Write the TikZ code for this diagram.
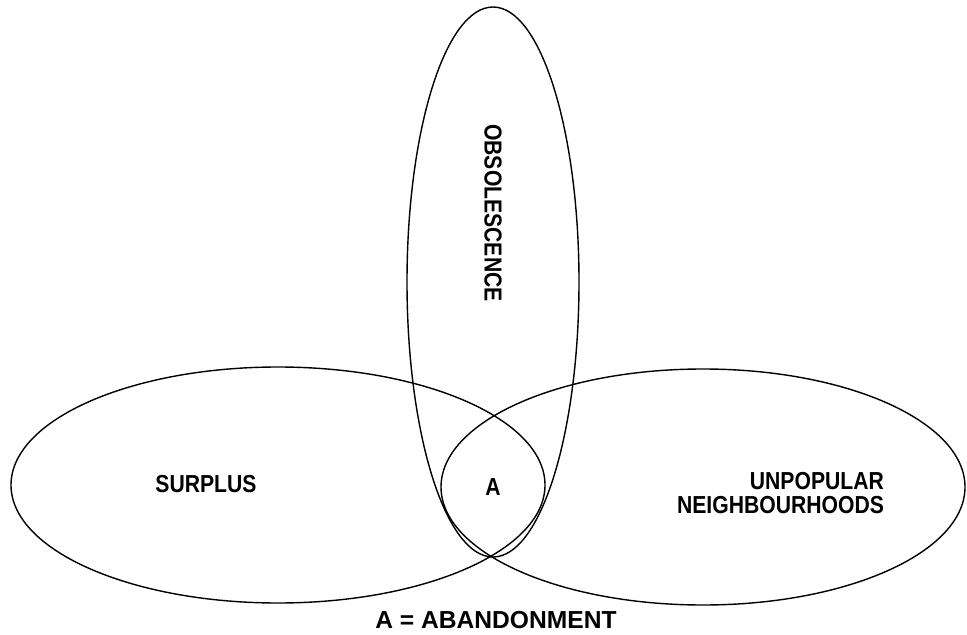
\documentclass[tikz,border=0pt]{standalone}
\usepackage{fontspec}
\usepackage{graphicx}
\setmainfont{Liberation Sans}
\usetikzlibrary{positioning}
\tikzset{
  setline/.style={draw=black,line width=0.8pt},
  setlabel/.style={font=\bfseries\fontsize{14}{13.8}\selectfont,inner sep=1pt},
}
\newcommand{\vtxt}[1]{\scalebox{0.86}[1]{#1}}
\begin{document}
\begin{tikzpicture}[x=0.02cm,y=-0.02cm]
    \useasboundingbox (0,0) rectangle (967,635);
    % the three sets
    \draw[setline] (278,485) ellipse [x radius=267,y radius=118];
    \draw[setline] (703,487) ellipse [x radius=262,y radius=118];
    \draw[setline] (493,282) ellipse [x radius=86,y radius=275];
    % labels
    \node[setlabel] (surplus) at (206,484) {\vtxt{SURPLUS}};
    \node[setlabel,rotate=-90] (obsol) at (493,213) {\vtxt{OBSOLESCENCE}};
    \node[setlabel,align=right,anchor=east] (unpop) at (886,493)
      {\vtxt{UNPOPULAR}\\\vtxt{NEIGHBOURHOODS}};
    \node[setlabel] (abandon) at (493,487) {\vtxt{A}};
    \node[setlabel] (key) at (496,620) {A = ABANDONMENT};
  \end{tikzpicture}
\end{document}
